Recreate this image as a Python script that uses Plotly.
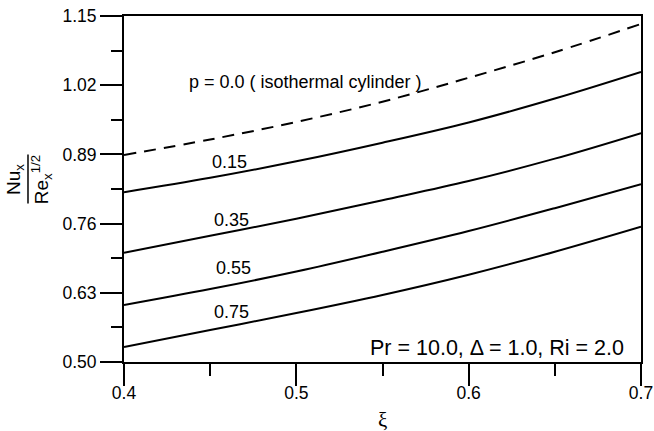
import plotly.graph_objects as go

xi = [0.40, 0.45, 0.50, 0.55, 0.60, 0.65, 0.70]
nu_p000 = [0.889, 0.918, 0.951, 0.989, 1.034, 1.082, 1.135]
nu_p015 = [0.819, 0.846, 0.877, 0.912, 0.950, 0.995, 1.045]
nu_p035 = [0.705, 0.737, 0.769, 0.804, 0.840, 0.882, 0.930]
nu_p055 = [0.607, 0.637, 0.670, 0.707, 0.746, 0.789, 0.834]
nu_p075 = [0.528, 0.560, 0.592, 0.626, 0.664, 0.707, 0.754]

y_ticks = [0.50, 0.63, 0.76, 0.89, 1.02, 1.15]
x_ticks = [0.4, 0.5, 0.6, 0.7]

FONT = "Liberation Sans, Arial, sans-serif"

fig = go.Figure()
fig.add_trace(go.Scatter(x=xi, y=nu_p000, mode="lines", line=dict(color="black", width=2, dash="12px,8px", shape="spline"), cliponaxis=False))
for ys in [nu_p015, nu_p035, nu_p055, nu_p075]:
    fig.add_trace(go.Scatter(x=xi, y=ys, mode="lines", line=dict(color="black", width=2, shape="spline"), cliponaxis=False))

ann = dict(showarrow=False, font=dict(family=FONT, size=18, color="black"))
fig.add_annotation(x=0.4366, y=1.026, text="p = 0.0 ( isothermal cylinder )", xanchor="left", yanchor="middle", **ann)
fig.add_annotation(x=0.4615, y=0.8757, text="0.15", xanchor="center", yanchor="middle", **ann)
fig.add_annotation(x=0.4624, y=0.7668, text="0.35", xanchor="center", yanchor="middle", **ann)
fig.add_annotation(x=0.4635, y=0.6766, text="0.55", xanchor="center", yanchor="middle", **ann)
fig.add_annotation(x=0.4624, y=0.594, text="0.75", xanchor="center", yanchor="middle", **ann)
fig.add_annotation(x=0.6913, y=0.526, text="Pr = 10.0, Δ = 1.0, Ri = 2.0", xanchor="right", yanchor="middle",
                   showarrow=False, font=dict(family=FONT, size=21.5, color="black"))

# x-axis title
fig.add_annotation(xref="paper", yref="paper", x=0.5, y=-0.168, text="ξ", xanchor="center", yanchor="middle",
                   showarrow=False, font=dict(family="Liberation Serif, DejaVu Serif, serif", size=21, color="black"))

# y-axis title as a fraction
fig.add_annotation(xref="paper", yref="paper", x=-0.2108, y=0.526, text="Nu<sub>x</sub>", textangle=-90,
                   xanchor="center", yanchor="middle", showarrow=False, font=dict(family=FONT, size=19, color="black"))
fig.add_annotation(xref="paper", yref="paper", x=-0.160, y=0.526, text="Re<sub>x</sub><sup>1/2</sup>", textangle=-90,
                   xanchor="center", yanchor="middle", showarrow=False, font=dict(family=FONT, size=19, color="black"))
fig.add_shape(type="line", xref="paper", yref="paper", x0=-0.1857, x1=-0.1857, y0=0.458, y1=0.600,
              line=dict(color="black", width=1.5))

axis_common = dict(showgrid=False, zeroline=False, showline=True, linecolor="black", linewidth=2, mirror=True,
                   ticks="outside", tickcolor="black", tickwidth=2, ticklen=22, automargin=False,
                   tickfont=dict(family=FONT, size=17.5, color="black"))

fig.update_xaxes(range=[0.4, 0.7], tickvals=x_ticks, ticktext=[f"{v:.1f}" for v in x_ticks],
                 minor=dict(dtick=0.05, tick0=0.4, ticks="outside", ticklen=12, tickwidth=2, tickcolor="black"),
                 ticklabelstandoff=-8,
                 **axis_common)
fig.update_yaxes(range=[0.5, 1.15], tickvals=y_ticks, ticktext=[f"{v:.2f}" for v in y_ticks],
                 minor=dict(dtick=0.065, tick0=0.5, ticks="outside", ticklen=11, tickwidth=2, tickcolor="black"),
                 **axis_common)

fig.update_layout(width=654, height=431, margin=dict(l=124, r=13, t=16, b=69),
                  plot_bgcolor="white", paper_bgcolor="white", showlegend=False,
                  font=dict(family=FONT, color="black"))

fig.write_html("out.html")
